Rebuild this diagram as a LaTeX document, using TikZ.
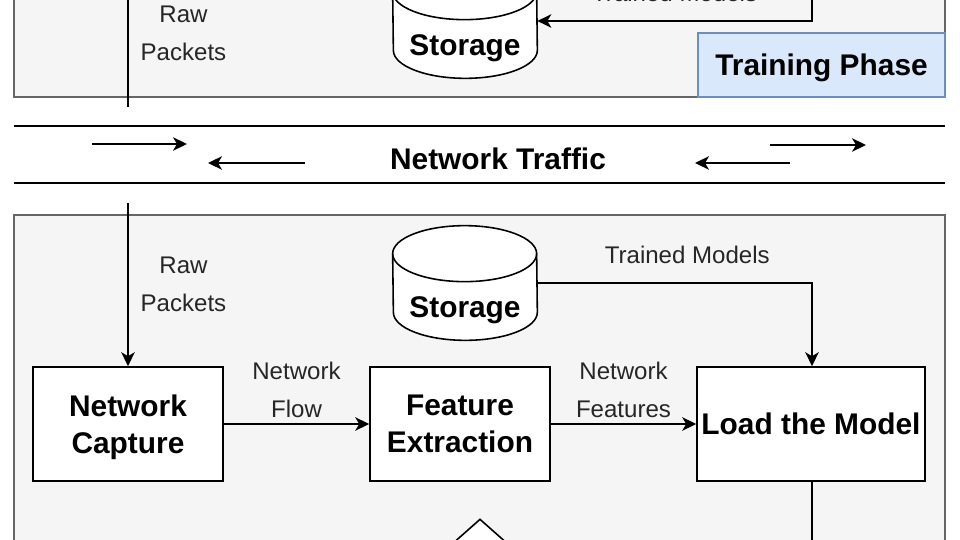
\documentclass[tikz,border=0pt]{standalone}
\usepackage{fontspec}
\setmainfont{Liberation Sans}
\usepackage{tikz}
\usetikzlibrary{shapes.geometric,arrows.meta}

\definecolor{panelfill}{HTML}{F5F5F5}
\definecolor{panelline}{HTML}{666666}
\definecolor{phasefill}{HTML}{DAE8FC}
\definecolor{phaseline}{HTML}{6C8EBF}

\begin{document}
\begin{tikzpicture}[x=0.02cm,y=-0.02cm,
  panel/.style={draw=panelline,fill=panelfill,line width=0.9pt},
  boldtext/.style={font=\fontsize{17}{21}\selectfont\bfseries,text depth=0pt},
  block/.style={draw,fill=white,line width=0.9pt,align=center,inner sep=0pt,boldtext},
  flow/.style={draw,line width=0.9pt,-{Stealth[length=0.28cm,width=0.27cm,inset=0.08cm]}},
  wire/.style={draw,line width=0.9pt},
  lbl/.style={align=center,font=\fontsize{13.7}{21.5}\selectfont,text=black!85},
  cylline/.style={draw,fill=white,line width=0.9pt}]
\useasboundingbox (0,0) rectangle (960,540);
\clip (0,0) rectangle (960,540);

% panels
\path[panel] (14,-20) rectangle (945,97);
\path[panel] (14,215) rectangle (945,580);
\node[name=Training-Phase,draw=phaseline,fill=phasefill,line width=0.9pt,minimum width=4.94cm,minimum height=1.28cm,boldtext] at (821.5,65) {Training Phase};

% storage (training)
\node[name=Storage-1,minimum width=2.88cm,minimum height=2.28cm,inner sep=0pt] at (465,21) {};
\draw[cylline] ([yshift=-0.56cm]Storage-1.north west) arc[start angle=180,end angle=0,x radius=1.44cm,y radius=0.56cm] -- ([yshift=0.56cm]Storage-1.south east) arc[start angle=0,end angle=-180,x radius=1.44cm,y radius=0.56cm] -- cycle;
\draw[cylline,fill=none] ([yshift=-0.56cm]Storage-1.north west) arc[start angle=180,end angle=360,x radius=1.44cm,y radius=0.56cm];
\node[name=Storage-1-text,boldtext] at ([yshift=-0.48cm]Storage-1.center) {Storage};

% storage (detection)
\node[name=Storage-2,minimum width=2.88cm,minimum height=2.28cm,inner sep=0pt] at (465,283) {};
\draw[cylline] ([yshift=-0.56cm]Storage-2.north west) arc[start angle=180,end angle=0,x radius=1.44cm,y radius=0.56cm] -- ([yshift=0.56cm]Storage-2.south east) arc[start angle=0,end angle=-180,x radius=1.44cm,y radius=0.56cm] -- cycle;
\draw[cylline,fill=none] ([yshift=-0.56cm]Storage-2.north west) arc[start angle=180,end angle=360,x radius=1.44cm,y radius=0.56cm];
\node[name=Storage-2-text,boldtext] at ([yshift=-0.48cm]Storage-2.center) {Storage};

% network traffic
\draw[line width=0.9pt] (14,126) -- (945,126);
\draw[line width=0.9pt] (14,183) -- (945,183);
\node[name=Network-Traffic,boldtext] at (498,159) {Network Traffic};
\draw[flow] (92,144) -- (187,144);
\draw[flow] (305,163) -- (208,163);
\draw[flow] (790,163) -- (695,163);
\draw[flow] (770,145) -- (866,145);

% blocks
\node[name=Network-Capture,block,minimum width=3.8cm,minimum height=2.28cm] at (128,424) {Network\\Capture};
\node[name=Feature-Extraction,block,minimum width=3.6cm,minimum height=2.28cm] at (460,424) {Feature\\Extraction};
\node[name=Load-the-Model,block,minimum width=4.56cm,minimum height=2.28cm] at (811,424) {Load the Model};
\node[name=Decision,draw,fill=white,diamond,line width=0.9pt,minimum width=4.4cm,minimum height=3.9cm] at (480,616.5) {};

\coordinate (Raw-Top) at (128,107);
\coordinate (Raw-Up) at (128,-41);
\coordinate (Raw-In) at (128,203);
\coordinate (Trained-In) at (812,-41);
\coordinate (Model-Out) at (812,580);

% connectors
\path[flow] (Raw-Top) -- node[lbl,midway,right=0.12cm] {Raw\\Packets} (Raw-Up);
\path[flow] (Trained-In) |- node[lbl,pos=0.75,above=0.26cm] {Trained Models} (Storage-1.east);
\path[flow] (Raw-In) -- node[lbl,midway,right=0.12cm] {Raw\\Packets} (Network-Capture.north);
\path[flow] (Network-Capture) -- node[lbl,midway,above] {Network\\Flow} (Feature-Extraction);
\path[flow] (Feature-Extraction) -- node[lbl,midway,above] {Network\\Features} (Load-the-Model);
\path[flow] (Storage-2.east) -| node[lbl,pos=0.273,above=0.26cm] {Trained Models} ([xshift=0.02cm]Load-the-Model.north);
\path[wire] ([xshift=0.02cm]Load-the-Model.south) -- (Model-Out);
\end{tikzpicture}
\end{document}
